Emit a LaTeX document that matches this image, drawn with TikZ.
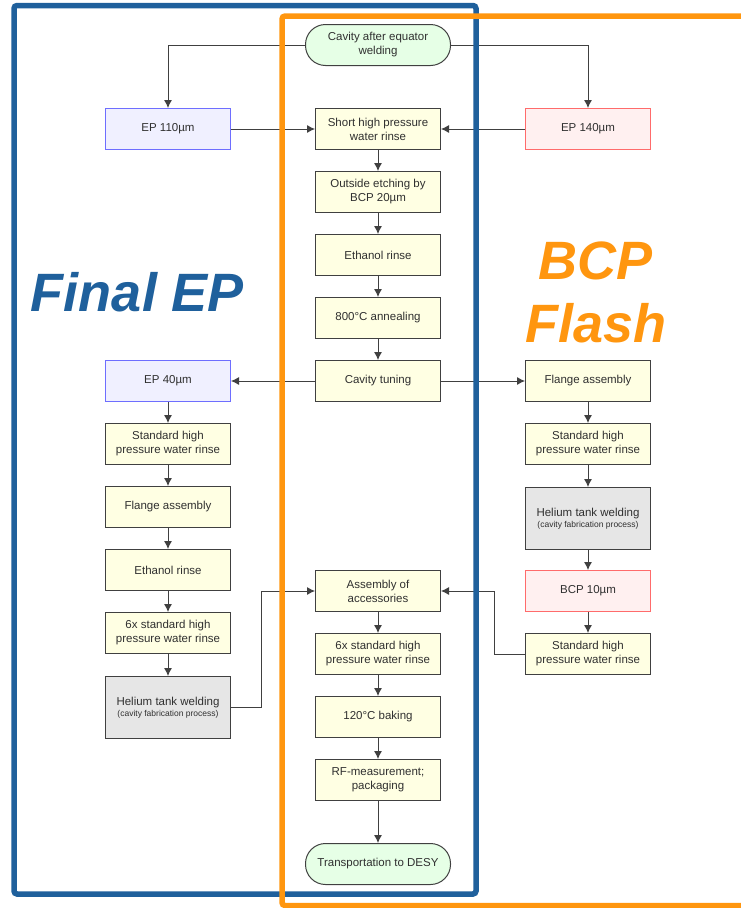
\documentclass[tikz,border=0pt]{standalone}
\usepackage{fontspec}
\setmainfont{Liberation Sans}
\usetikzlibrary{arrows.meta,positioning,calc}
\definecolor{rahmenblau}{HTML}{1F609C}
\definecolor{rahmenorange}{HTML}{FF960F}
\definecolor{linie}{HTML}{404040}
\definecolor{schrift}{HTML}{303030}
\definecolor{kasten}{HTML}{FFFFE3}
\definecolor{epfuell}{HTML}{F0F0FF}
\definecolor{eprand}{HTML}{6E6EFF}
\definecolor{bcpfuell}{HTML}{FFF0F0}
\definecolor{bcprand}{HTML}{FF6B6B}
\definecolor{heliumgrau}{HTML}{E6E6E6}
\definecolor{endgruen}{HTML}{E6FFE6}
\tikzset{
  schritt/.style={draw=linie, fill=kasten, line width=1pt, minimum width=125pt,
    minimum height=41pt, inner sep=2pt, align=center, text=schrift,
    font=\fontsize{11.5}{14}\selectfont},
  ep/.style={schritt, draw=eprand, fill=epfuell},
  bcp/.style={schritt, draw=bcprand, fill=bcpfuell},
  helium/.style={schritt, fill=heliumgrau, minimum height=62pt},
  ende/.style={schritt, fill=endgruen, rounded corners=20pt, minimum width=145pt},
  pfeil/.style={draw=linie, line width=0.9pt, -{Latex[length=8pt,width=8pt]}},
  gross/.style={font=\fontsize{54}{63}\selectfont\bfseries\itshape, align=center},
}
\begin{document}
\begin{tikzpicture}[x=1pt,y=-1pt]
%Koordinaten in Pixeln vom Bild, y nach unten
  \useasboundingbox (0,0) rectangle (741,908);
  \pgfmathsetmacro{\xL}{168}
  \pgfmathsetmacro{\xM}{378}
  \pgfmathsetmacro{\xR}{588}
%Mitte
\node[ende] (start) at (\xM,45) {Cavity after equator\\welding};
\node[schritt] (hpr) at (\xM,129) {Short high pressure\\water rinse};
\node[schritt] (etch) at (\xM,192) {Outside etching by\\BCP 20µm};
\node[schritt] (eth) at (\xM,255) {Ethanol rinse};
\node[schritt] (anneal) at (\xM,318) {800°C annealing};
\node[schritt] (tuning) at (\xM,381) {Cavity tuning};
\node[schritt] (acc) at (\xM,591) {Assembly of\\accessories};
\node[schritt] (hprsechs) at (\xM,654) {6x standard high\\pressure water rinse};
\node[schritt] (bake) at (\xM,717) {120°C baking};
\node[schritt] (rf) at (\xM,780) {RF-measurement;\\packaging};
\node[ende] (desy) at (\xM,864) {Transportation to DESY};
%Links (EP)
\node[ep] (ep110) at (\xL,129) {EP 110µm};
\node[ep] (ep40) at (\xL,381) {EP 40µm};
\node[schritt] (hprL) at (\xL,444) {Standard high\\pressure water rinse};
\node[schritt] (flangeL) at (\xL,507) {Flange assembly};
\node[schritt] (ethL) at (\xL,570) {Ethanol rinse};
\node[schritt] (hprsechsL) at (\xL,633) {6x standard high\\pressure water rinse};
\node[helium] (heliumL) at (\xL,707.5) {Helium tank welding\\[-3pt]{\fontsize{8.5}{10}\selectfont(cavity fabrication process)}};
%Rechts (BCP)
\node[bcp] (ep140) at (\xR,129) {EP 140µm};
\node[schritt] (flangeR) at (\xR,381) {Flange assembly};
\node[schritt] (hprR) at (\xR,444) {Standard high\\pressure water rinse};
\node[helium] (heliumR) at (\xR,518.5) {Helium tank welding\\[-3pt]{\fontsize{8.5}{10}\selectfont(cavity fabrication process)}};
\node[bcp] (bcp10) at (\xR,591) {BCP 10µm};
\node[schritt] (hprRzwei) at (\xR,654) {Standard high\\pressure water rinse};
%Pfeile
\draw[pfeil] (start.west) -| (ep110);
\draw[pfeil] (start.east) -| (ep140);
\draw[pfeil] (ep110) -- (hpr);
\draw[pfeil] (ep140) -- (hpr);
\draw[pfeil] (tuning) -- (ep40);
\draw[pfeil] (tuning) -- (flangeR);
\foreach \von/\nach in {hpr/etch,etch/eth,eth/anneal,anneal/tuning,acc/hprsechs,hprsechs/bake,bake/rf,rf/desy,
  ep40/hprL,hprL/flangeL,flangeL/ethL,ethL/hprsechsL,hprsechsL/heliumL,
  flangeR/hprR,hprR/heliumR,heliumR/bcp10,bcp10/hprRzwei}{
\draw[pfeil] (\von) -- (\nach);
}
\draw[pfeil] (heliumL.east) -- ++(30,0) |- (acc.west);
\draw[pfeil] (hprRzwei.west) -- ++(-31,0) |- (acc.east);
%Beschriftung der Wege
\node[gross, text=rahmenblau] (finalep) at (137.5,292) {Final EP};
\node[gross, text=rahmenorange] (bcpflash) at (596,292) {BCP\\Flash};
%Rahmen
\draw[rahmenblau, line width=5.5pt, rounded corners=3pt] (14,5.5) rectangle (476,894);
\draw[rahmenorange, line width=5.5pt, rounded corners=3pt] (741,16) -| (282,905.5) -- (741,905.5);
\end{tikzpicture}
\end{document}
